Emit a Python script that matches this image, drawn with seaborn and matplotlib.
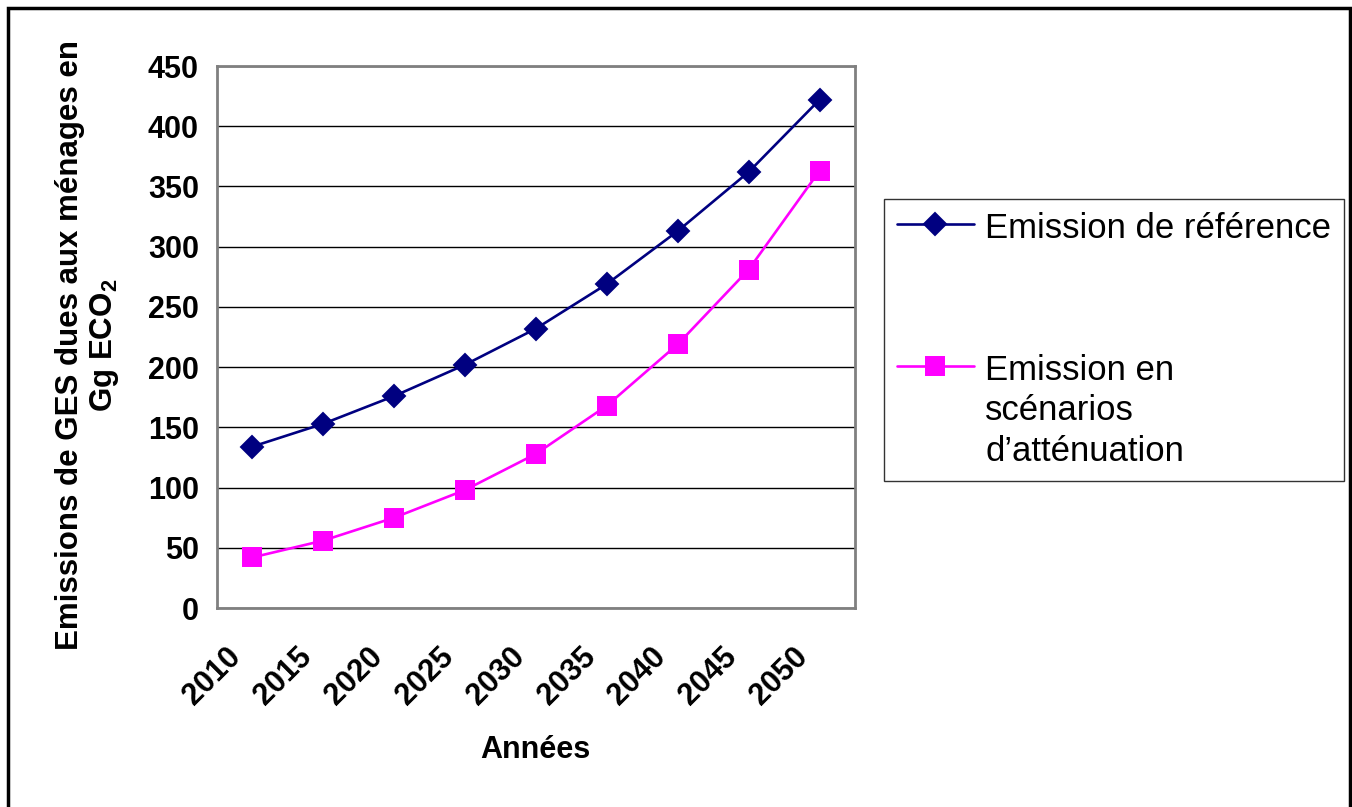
"""
Emissions de GES des ménages - référence vs scénario d'atténuation
"""

import pandas as pd
import numpy as np
import matplotlib.pyplot as plt
import matplotlib.patches as mpatches
import matplotlib.transforms as mtransforms
import seaborn as sns

# ─── Data ────────────────────────────────────────────────────────────────────

YEARS      = ["2010", "2015", "2020", "2025", "2030", "2035", "2040", "2045", "2050"]
REFERENCE  = [134, 153, 176, 202, 232, 269, 313, 362, 422]
MITIGATION = [42, 56, 75, 98, 128, 168, 219, 281, 363]

LBL_REF = "Emission de référence"
LBL_MIT = "Emission en\nscénarios\nd\u2019atténuation"

COLORS = {LBL_REF: "#000080", LBL_MIT: "#FF00FF"}

df = pd.concat([
    pd.DataFrame({"annee": YEARS, "val": REFERENCE, "serie": LBL_REF}),
    pd.DataFrame({"annee": YEARS, "val": MITIGATION, "serie": LBL_MIT}),
])

# ─── Style ───────────────────────────────────────────────────────────────────

sns.set_style("white")
plt.rcParams.update({
    "font.family": ["Liberation Sans", "DejaVu Sans"],
    "mathtext.fontset": "custom",
    "mathtext.rm": "Liberation Sans:bold",
    "mathtext.bf": "Liberation Sans:bold",
    "text.color": "black",
    "axes.labelcolor": "black",
    "xtick.color": "black",
    "ytick.color": "black",
})

fig = plt.figure(figsize=(13.52, 8.07), dpi=100)
ax = fig.add_axes([217 / 1352, 1 - 608 / 807, 638 / 1352, 542 / 807])

sns.pointplot(data=df, x="annee", y="val", hue="serie", order=YEARS,
              palette=COLORS, markers=["D", "s"], linestyles=["-", "-"],
              errorbar=None, markersize=12, linewidth=1.9, ax=ax)

# marker sizes differ slightly between series
for ln in ax.lines:
    if ln.get_marker() == "D":
        ln.set_markersize(11.5)
    elif ln.get_marker() == "s":
        ln.set_markersize(12.5)

ax.set_ylim(0, 450)
ax.set_yticks(np.arange(0, 451, 50))
ax.set_xlim(-0.5, len(YEARS) - 0.5)
ax.yaxis.grid(True, color="black", linewidth=1)
ax.xaxis.grid(False)

for s in ax.spines.values():
    s.set_color("#808080")
    s.set_linewidth(2)

# category boundary ticks on x
ax.set_xticks(np.arange(-0.5, len(YEARS), 1), minor=True)
ax.tick_params(axis="x", which="major", length=0, pad=32)
ax.tick_params(axis="x", which="minor", length=7, width=1.5, color="#808080", direction="out")
ax.tick_params(axis="y", length=7, width=1.5, color="#808080", labelcolor="black",
               direction="out", pad=6)

shift = mtransforms.ScaledTranslation(-16 / 100, 0, fig.dpi_scale_trans)
for t in ax.get_xticklabels():
    t.set_rotation(45)
    t.set_ha("right")
    t.set_va("center")
    t.set_rotation_mode("anchor")
    t.set_fontsize(22)
    t.set_fontweight("bold")
    t.set_color("black")
    t.set_transform(t.get_transform() + shift)
for t in ax.get_yticklabels():
    t.set_fontsize(22)
    t.set_fontweight("bold")
    t.set_color("black")

ax.set_xlabel("Années", fontsize=22, fontweight="bold", color="black")
ax.xaxis.set_label_coords(0.499, -0.235)
ax.set_ylabel("Emissions de GES dues aux ménages en\nGg ECO$_2$", fontsize=22.5,
              fontweight="bold", linespacing=1.12, color="black")
ax.yaxis.set_label_coords(-0.150, 0.485)

# ─── Legend ──────────────────────────────────────────────────────────────────

handles, labels = ax.get_legend_handles_labels()
ax.get_legend().remove()
leg = fig.legend(handles, labels, loc="upper left", bbox_to_anchor=(884 / 1352, 1 - 199 / 807),
                 fontsize=25, frameon=True, fancybox=False, borderaxespad=0,
                 borderpad=0.38, handlelength=2.2, handletextpad=0.33,
                 labelspacing=3.12)
leg.get_frame().set_edgecolor("black")
leg.get_frame().set_linewidth(1)
for t in leg.get_texts():
    t.set_linespacing(1.3)
    t.set_color("black")
# put each legend marker next to the first line of its label
for col in leg._legend_handle_box.get_children():
    for hp in col.get_children():
        hp.align = "top"

# outer frame
fig.patches.append(mpatches.Rectangle((8 / 1352, -0.05), 1342 / 1352, 1.05 - 8 / 807,
                                      transform=fig.transFigure, fill=False,
                                      edgecolor="black", linewidth=2.5))

plt.savefig("out.png", dpi=100)
plt.close()
